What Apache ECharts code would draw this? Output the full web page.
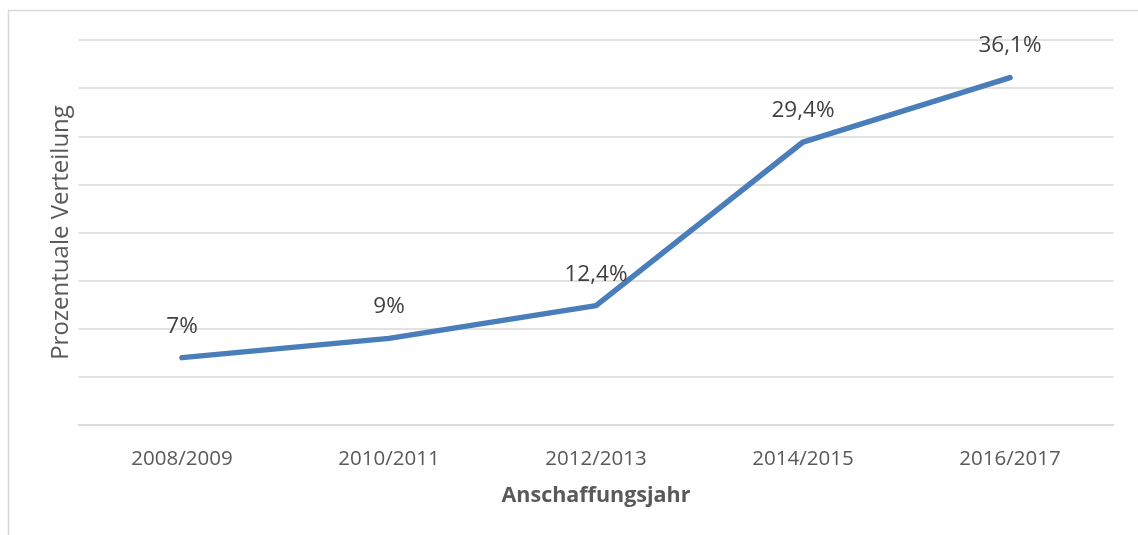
<!DOCTYPE html>
<html>
<head>
<meta charset="utf-8">
<style>
  html, body { margin: 0; padding: 0; background: #fff; }
  #chart { width: 1138px; height: 535px; }
</style>
<script src="https://cdn.jsdelivr.net/npm/echarts@6/dist/echarts.min.js"></script>
</head>
<body>
<div id="chart"></div>
<script>
// Anschaffungsjahr -> Anteil in %
const years = ['2008/2009', '2010/2011', '2012/2013', '2014/2015', '2016/2017']
const shares = [7, 9, 12.4, 29.4, 36.1]

const font = '"Open Sans", sans-serif'
const myChart = echarts.init(document.getElementById('chart'))

myChart.setOption({
  animation: false,
  textStyle: { fontFamily: font },
  graphic: [{
    type: 'rect',
    shape: { x: 8.5, y: 10.5, width: 1200, height: 600 },
    style: { fill: 'none', stroke: '#d9d9d9', lineWidth: 1.5 },
    silent: true,
  }],
  grid: { left: 78.5, right: 24.5, top: 40, bottom: 110 },
  xAxis: {
    type: 'category',
    data: years,
    boundaryGap: true,
    name: 'Anschaffungsjahr',
    nameLocation: 'middle',
    nameGap: 60,
    nameTextStyle: { fontSize: 21.5, fontWeight: 'bold', color: '#595959', fontFamily: font },
    axisLine: { lineStyle: { color: '#d9d9d9', width: 1.5 } },
    axisTick: { show: false },
    axisLabel: { fontSize: 20.5, color: '#595959', margin: 24, fontFamily: font },
  },
  yAxis: {
    type: 'value',
    min: 0,
    max: 40,
    interval: 5,
    name: 'Prozentuale Verteilung',
    nameLocation: 'middle',
    nameGap: 5,
    nameTextStyle: { fontSize: 24, color: '#595959', fontFamily: font },
    axisLine: { show: false },
    axisTick: { show: false },
    axisLabel: { show: false },
    splitLine: { lineStyle: { color: '#d9d9d9', width: 1.5 } },
  },
  series: [{
    type: 'line',
    data: shares,
    symbol: 'circle',
    symbolSize: 2,
    showSymbol: true,
    itemStyle: { color: '#4a7ebb' },
    lineStyle: { color: '#4a7ebb', width: 5.5, cap: 'round', join: 'round' },
    label: {
      show: true,
      position: 'top',
      distance: 19,
      fontSize: 22.5,
      color: '#404040',
      fontFamily: font,
      formatter: p => String(p.value).replace('.', ',') + '%',
    },
  }],
})
</script>
</body>
</html>
